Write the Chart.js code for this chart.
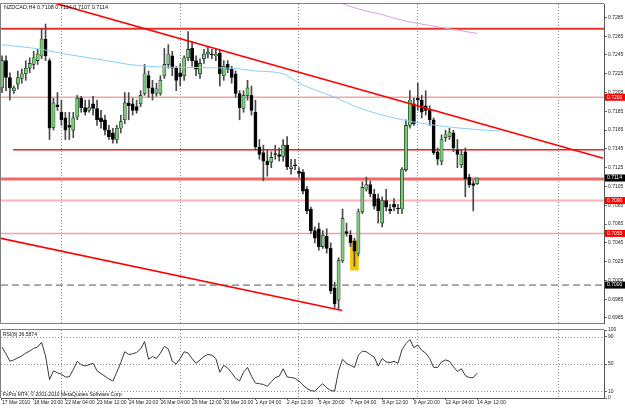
<!DOCTYPE html>
<html><head><meta charset="utf-8">
<script src="https://cdn.jsdelivr.net/npm/chart.js@4.4.0/dist/chart.umd.min.js"></script>
<style>
html,body{margin:0;padding:0;background:#fff;}
#wrap{position:relative;width:625px;height:408px;overflow:hidden;background:#fff;}
#c1{position:absolute;left:0;top:0;}
#c2{position:absolute;left:0;top:326px;}
</style></head><body>
<div id="wrap"><canvas id="c1" width="625" height="327"></canvas><canvas id="c2" width="625" height="82"></canvas></div>
<script>
// ---------- DATA ----------
const symbolTitle = "NZDCAD,H4 0.7108 0.7114 0.7107 0.7114";
const rsiTitle = "RSI(8) 36.5874";
const copyright = "FxPro MT4, \u00A9 2001-2010 MetaQuotes Software Corp.";

const opens = [.7210,.7239,.7221,.7207,.7214,.7220,.7225,.7231,.7235,.7239,
.7244,.7262,.7239,.7168,.7192,.7184,.7178,.7170,.7165,.7179,
.7199,.7189,.7186,.7193,.7188,.7178,.7176,.7165,.7162,.7155,
.7167,.7176,.7194,.7193,.7190,.7193,.7204,.7223,.7210,.7204,
.7204,.7223,.7235,.7244,.7231,.7226,.7223,.7242,.7252,.7239,
.7225,.7241,.7246,.7246,.7244,.7247,.7223,.7235,.7230,.7225,
.7204,.7188,.7202,.7202,.7184,.7147,.7141,.7132,.7131,.7140,
.7139,.7137,.7149,.7124,.7128,.7121,.7120,.7102,.7081,.7058,
.7060,.7041,.7052,.7039,.6997,.6984,.7026,.7057,.7053,.7047,
.7034,.7078,.7102,.7107,.7097,.7092,.7066,.7090,.7081,.7086,
.7082,.7081,.7123,.7170,.7193,.7199,.7197,.7191,.7186,.7176,
.7142,.7132,.7157,.7158,.7162,.7144,.7128,.7142,.7115,.7108,
.7108];
const highs = [.7244,.7244,.7226,.7212,.7228,.7230,.7239,.7242,.7249,.7251,
.7273,.7278,.7241,.7199,.7205,.7197,.7184,.7184,.7184,.7202,
.7201,.7197,.7197,.7201,.7197,.7186,.7181,.7170,.7167,.7170,
.7181,.7205,.7205,.7199,.7197,.7207,.7235,.7228,.7218,.7215,
.7223,.7252,.7256,.7249,.7233,.7236,.7244,.7270,.7259,.7244,
.7241,.7251,.7254,.7251,.7252,.7251,.7239,.7239,.7233,.7228,
.7207,.7207,.7218,.7212,.7197,.7155,.7149,.7144,.7142,.7149,
.7146,.7155,.7158,.7134,.7134,.7125,.7123,.7105,.7083,.7062,
.7066,.7058,.7060,.7045,.7003,.7029,.7081,.7066,.7058,.7050,
.7081,.7110,.7115,.7111,.7102,.7097,.7094,.7102,.7086,.7092,
.7086,.7125,.7176,.7207,.7199,.7215,.7202,.7207,.7191,.7178,
.7146,.7160,.7165,.7167,.7165,.7155,.7144,.7146,.7118,.7111,
.7114];
const lows = [.7205,.7207,.7197,.7204,.7209,.7215,.7218,.7226,.7230,.7235,
.7241,.7239,.7155,.7165,.7186,.7170,.7155,.7155,.7157,.7176,
.7184,.7181,.7184,.7181,.7170,.7167,.7160,.7155,.7151,.7151,
.7162,.7172,.7176,.7181,.7183,.7190,.7202,.7200,.7197,.7201,
.7202,.7220,.7231,.7223,.7207,.7212,.7218,.7239,.7233,.7223,
.7220,.7236,.7242,.7241,.7239,.7212,.7218,.7226,.7215,.7200,
.7176,.7184,.7197,.7181,.7144,.7134,.7111,.7116,.7125,.7134,
.7132,.7132,.7123,.7118,.7123,.7115,.7097,.7076,.7055,.7045,
.7037,.7039,.7034,.6991,.6976,.6974,.7024,.7052,.7041,.7020,
.7031,.7076,.7100,.7094,.7081,.7066,.7062,.7079,.7076,.7079,
.7076,.7076,.7121,.7167,.7170,.7186,.7178,.7181,.7170,.7139,
.7128,.7128,.7153,.7155,.7142,.7125,.7125,.7094,.7104,.7079,
.7107];
const closes = [.7239,.7221,.7210,.7210,.7221,.7225,.7231,.7236,.7242,.7246,
.7262,.7244,.7167,.7194,.7190,.7176,.7165,.7168,.7178,.7199,
.7189,.7184,.7189,.7188,.7176,.7174,.7165,.7158,.7155,.7167,
.7174,.7194,.7191,.7186,.7186,.7202,.7225,.7210,.7204,.7209,
.7218,.7235,.7246,.7231,.7218,.7222,.7242,.7251,.7239,.7230,
.7236,.7246,.7248,.7245,.7246,.7225,.7233,.7230,.7221,.7204,
.7189,.7202,.7210,.7186,.7147,.7139,.7132,.7128,.7136,.7139,
.7137,.7149,.7126,.7126,.7127,.7119,.7100,.7079,.7058,.7050,
.7041,.7053,.7039,.6994,.6980,.7026,.7071,.7055,.7045,.7036,
.7078,.7104,.7107,.7097,.7084,.7079,.7090,.7083,.7079,.7083,
.7081,.7123,.7170,.7197,.7172,.7197,.7184,.7186,.7176,.7141,
.7134,.7155,.7160,.7163,.7146,.7139,.7139,.7113,.7107,.7106,
.7114];
const rsiValues = [75,65,54,56,59,62,66,69,73,75,
82,62,27,40,37,35,31,31,42,54,
49,47,49,51,40,36,32,28,25,38,
52,68,64,65,67,72,83,57,61,58,
66,76,72,54,50,58,68,66,58,51,
56,61,64,63,58,38,48,44,37,29,
25,38,45,32,22,21,20,17,24,30,
32,43,31,30,29,25,19,14,11,10,
16,21,15,11,10,40,57,51,48,45,
63,69,68,64,60,47,58,53,52,54,
51,71,80,86,74,78,70,66,58,45,
45,53,56,54,46,39,43,33,30,30,
36.5874];
// moving averages: [bar index, price]
const maBlue = [[0,.7256],[10,.7251],[16,.7246],[25,.7240],[32,.7235],[42,.7232],[58,.7231],[64,.7228],[71,.7225],[75,.7215],[84,.7200],[90,.7189],[100,.7177],[108,.7171],[116,.7167],[126,.7164]];
const maPurple = [[85,.7301],[90,.7294],[96,.7288],[100,.7283],[110,.7275],[120,.7268]];
// trend lines: [bar index, price]
const trendUpper = [[12.6,.7301],[151.8,.7135]];
const trendLower = [[-0.5,.7050],[85.9,.6973]];
const highlightBar = 89;
const highlightRange = [.7016,.7047];
// horizontal levels
const levelPrices = [0.7273,0.7200,0.7144,0.7113,0.7090,0.7055,0.7000];
const levelStartIdx = [null,null,2.8,null,null,null,null];
// axis boxes
const boxValues = [0.7200,0.7114,0.7090,0.7055,0.7000];
// ticks
const priceTicks = [0.6965,0.6985,0.7005,0.7025,0.7045,0.7065,0.7085,0.7105,0.7125,0.7145,0.7165,0.7185,0.7205,0.7225,0.7245,0.7265,0.7285];
const rsiTicks = [0,10,50,90,100];
const rsiLevels = [90,50,10];
const xTickIdx = [0,8,16,24,32,40,48,56,64,72,80,88,96,104,112,120];
const xTickLabels = ["17 Mar 2010","18 Mar 20:00","22 Mar 04:00","23 Mar 12:00","24 Mar 20:00","26 Mar 04:00","29 Mar 12:00","30 Mar 20:00","1 Apr 04:00","2 Apr 12:00","5 Apr 20:00","7 Apr 04:00","8 Apr 12:00","9 Apr 20:00","12 Apr 04:00","14 Apr 12:00"];
const separatorIdx = [14.9,44.9,74.7,104.8,140.4];

// ---------- STYLE ----------
const FONT = '"Liberation Sans", Arial, sans-serif';
const levelStyles = [
 {color:'#e8322e', width:2, dash:[]},
 {color:'#f3a3a3', width:1.5, dash:[]},
 {color:'#ff1a1a', width:1.5, dash:[]},
 {color:'#f06a6a', width:3, dash:[]},
 {color:'#ffb4b4', width:2, dash:[]},
 {color:'#f5a0a0', width:1.5, dash:[]},
 {color:'#5a5a5a', width:1, dash:[7,4]}
];
const boxColors = ['#ff0000','#000000','#ff0000','#ff0000','#000000'];
const X_MIN = -0.2525, X_MAX = 152.02;
const P_MIN = 0.695962, P_MAX = 0.72993;

const xScaleBase = {type:'linear', min:X_MIN, max:X_MAX, offset:false};

function drawSeparators(chart){
  const {ctx, chartArea:a, scales:{x}} = chart;
  ctx.save();
  ctx.strokeStyle='#8a8a8a'; ctx.lineWidth=1; ctx.setLineDash([1,2]);
  separatorIdx.forEach(v=>{
    const px=Math.round(x.getPixelForValue(v))+0.5;
    ctx.beginPath(); ctx.moveTo(px,a.top); ctx.lineTo(px,a.bottom); ctx.stroke();
  });
  ctx.restore();
}

const pricePlugin = {
  id:'pricePlugin',
  beforeDatasetsDraw(chart){
    const {ctx, chartArea:a, scales:{x,y}} = chart;
    drawSeparators(chart);
    ctx.save();
    ctx.beginPath(); ctx.rect(a.left,a.top,a.right-a.left,a.bottom-a.top); ctx.clip();
    levelPrices.forEach((v,k)=>{
      const st=levelStyles[k];
      const py=y.getPixelForValue(v);
      const x0=levelStartIdx[k]!=null ? x.getPixelForValue(levelStartIdx[k]) : a.left;
      ctx.strokeStyle=st.color; ctx.lineWidth=st.width; ctx.setLineDash(st.dash);
      ctx.beginPath(); ctx.moveTo(x0,py); ctx.lineTo(a.right,py); ctx.stroke();
    });
    ctx.restore();
  },
  afterDraw(chart){
    const {ctx, chartArea:a, scales:{y}} = chart;
    ctx.save();
    ctx.strokeStyle='#808080'; ctx.lineWidth=1; ctx.setLineDash([]);
    ctx.beginPath();
    ctx.moveTo(a.left-0.5,a.top-0.5); ctx.lineTo(a.right,a.top-0.5);
    ctx.moveTo(a.left-0.5,a.top-0.5); ctx.lineTo(a.left-0.5,a.bottom+0.5);
    ctx.moveTo(a.left-0.5,a.bottom+0.5); ctx.lineTo(a.right,a.bottom+0.5);
    ctx.stroke();
    ctx.fillStyle='#111'; ctx.font='5.5px '+FONT; ctx.textBaseline='middle'; ctx.textAlign='left';
    ctx.fillText(symbolTitle, 4, 7);
    ctx.font='5px '+FONT;
    boxValues.forEach((v,k)=>{
      const py=y.getPixelForValue(v);
      ctx.fillStyle=boxColors[k]; ctx.fillRect(a.right+1, py-3.5, 20, 7);
      ctx.fillStyle='#fff'; ctx.fillText(v.toFixed(4), a.right+3, py);
    });
    ctx.restore();
  }
};

const rsiPlugin = {
  id:'rsiPlugin',
  beforeDatasetsDraw(chart){
    const {ctx, chartArea:a, scales:{y}} = chart;
    drawSeparators(chart);
    ctx.save();
    ctx.strokeStyle='#8a8a8a'; ctx.lineWidth=1; ctx.setLineDash([1,2]);
    rsiLevels.forEach(v=>{
      const py=Math.round(y.getPixelForValue(v))+0.5;
      ctx.beginPath(); ctx.moveTo(a.left,py); ctx.lineTo(a.right,py); ctx.stroke();
    });
    ctx.restore();
  },
  afterDraw(chart){
    const {ctx, chartArea:a} = chart;
    ctx.save();
    ctx.strokeStyle='#808080'; ctx.lineWidth=1;
    ctx.beginPath();
    ctx.moveTo(a.left-0.5,a.top-0.5); ctx.lineTo(a.right,a.top-0.5);
    ctx.moveTo(a.left-0.5,a.top-0.5); ctx.lineTo(a.left-0.5,a.bottom);
    ctx.stroke();
    ctx.fillStyle='#111'; ctx.font='5px '+FONT; ctx.textBaseline='middle'; ctx.textAlign='left';
    ctx.fillText(rsiTitle, 3, a.top+4.5);
    ctx.fillText(copyright, 3, a.bottom-3);
    ctx.restore();
  }
};

const idx = opens.map((_,i)=>i);
const bodyColors = idx.map(i => closes[i] >= opens[i] ? '#74cc74' : '#000000');
const pts = arr => arr.map(p=>({x:p[0], y:p[1]}));

new Chart(document.getElementById('c1'), {
  type:'bar',
  data:{datasets:[
    {type:'bar', data:[{x:highlightBar, y:highlightRange}], backgroundColor:'#f7c400', barThickness:8, grouped:false, order:10, borderWidth:0},
    {type:'bar', data:idx.map(i=>({x:i, y:[lows[i],highs[i]]})), backgroundColor:'#4a4a4a', barThickness:1, grouped:false, order:6, borderWidth:0},
    {type:'bar', data:idx.map(i=>({x:i, y:[opens[i],closes[i]]})), backgroundColor:bodyColors, borderColor:'#1a1a1a', borderWidth:0.6, borderSkipped:false, barThickness:3.2, minBarLength:1, grouped:false, order:5},
    {type:'line', data:pts(maBlue), borderColor:'#87cefa', borderWidth:1, pointRadius:0, cubicInterpolationMode:'monotone', order:3},
    {type:'line', data:pts(maPurple), borderColor:'#d9a0e0', borderWidth:1, pointRadius:0, cubicInterpolationMode:'monotone', order:3},
    {type:'line', data:pts(trendUpper), borderColor:'#ff0000', borderWidth:1.6, pointRadius:0, tension:0, order:2},
    {type:'line', data:pts(trendLower), borderColor:'#ff0000', borderWidth:1.6, pointRadius:0, tension:0, order:2}
  ]},
  options:{
    responsive:false, animation:false, devicePixelRatio:1,
    layout:{padding:{left:1,right:0,top:2,bottom:1}},
    plugins:{legend:{display:false}, tooltip:{enabled:false}, title:{display:false}},
    events:[],
    scales:{
      x:Object.assign({}, xScaleBase, {display:false}),
      y:{
        position:'right', min:P_MIN, max:P_MAX,
        afterBuildTicks:s=>{ s.ticks = priceTicks.map(v=>({value:v})); },
        afterFit:s=>{ s.width = 21; },
        ticks:{font:{size:5, family:FONT}, color:'#222', padding:1, autoSkip:false, callback:v=>Number(v).toFixed(4)},
        grid:{drawOnChartArea:false, drawTicks:true, tickLength:3, color:'#666'},
        border:{display:true, color:'#555', width:1}
      }
    }
  },
  plugins:[pricePlugin]
});

new Chart(document.getElementById('c2'), {
  type:'line',
  data:{datasets:[
    {data:idx.map(i=>({x:i, y:rsiValues[i]})), borderColor:'#3a3a3a', borderWidth:1, pointRadius:0, tension:0}
  ]},
  options:{
    responsive:false, animation:false, devicePixelRatio:1,
    layout:{padding:{left:1,right:0,top:2,bottom:0}},
    plugins:{legend:{display:false}, tooltip:{enabled:false}},
    events:[],
    scales:{
      x:Object.assign({}, xScaleBase, {
        afterBuildTicks:s=>{ s.ticks = xTickIdx.map(v=>({value:v})); },
        afterFit:s=>{ s.height = 10; },
        ticks:{align:'start', maxRotation:0, autoSkip:false, font:{size:5, family:FONT}, color:'#222', padding:0, callback:(v,i)=>xTickLabels[i]},
        grid:{drawOnChartArea:false, drawTicks:true, tickLength:2, color:'#666'},
        border:{display:true, color:'#555', width:1}
      }),
      y:{
        position:'right', min:0, max:100,
        afterBuildTicks:s=>{ s.ticks = rsiTicks.map(v=>({value:v})); },
        afterFit:s=>{ s.width = 21; },
        ticks:{font:{size:5, family:FONT}, color:'#222', padding:1, autoSkip:false},
        grid:{drawOnChartArea:false, drawTicks:true, tickLength:3, color:'#666'},
        border:{display:true, color:'#555', width:1}
      }
    }
  },
  plugins:[rsiPlugin]
});
</script>
</body></html>
